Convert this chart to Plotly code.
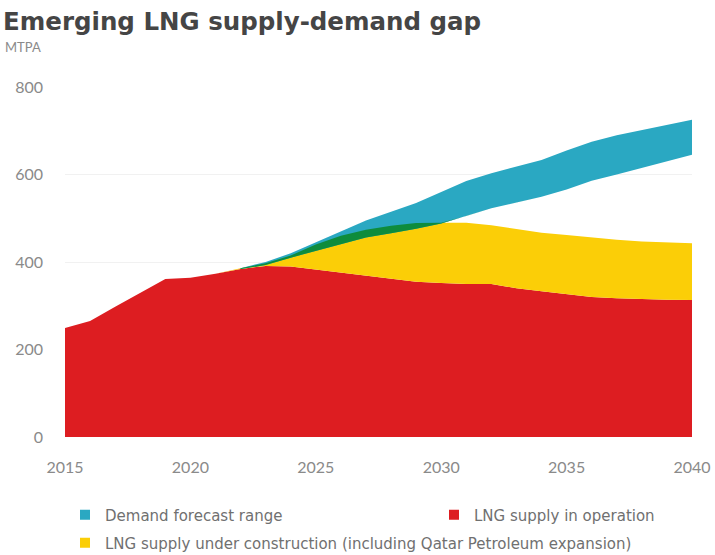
import numpy as np
import plotly.graph_objects as go

# ---- data (MTPA) ----
years = list(range(2015, 2041))
supply_in_operation = [249, 265, 298, 330, 361, 364, 373, 384, 391, 390,
                       383, 375, 369, 361, 355, 352, 350, 350, 340, 333,
                       326, 320, 317, 315, 314, 313]
supply_incl_construction = [249, 265, 298, 330, 361, 364, 373, 386, 397, 415,
                            440, 460, 474, 483, 489, 490, 490, 484, 476, 467,
                            462, 456, 451, 447, 445, 443]
demand_years = list(range(2022, 2041))
demand_low = [384, 393, 410, 425, 441, 456, 466, 476, 488, 505,
              523, 536, 549, 566, 586, 600, 615, 630, 645]
demand_high = [386, 400, 420, 445, 470, 495, 515, 535, 560, 585,
               603, 618, 633, 655, 675, 690, 702, 714, 725]

x_ticks = [2015, 2020, 2025, 2030, 2035, 2040]
y_ticks = [0, 200, 400, 600, 800]

RED = "#DD1D21"
YELLOW = "#FBCE07"
TEAL = "#2AA8C2"
GREEN = "#0E8C3C"
TEXT = "#8A8A8A"
FONT = "Lato"

# where demand range overlaps supply under construction
supply_on_demand_years = np.array(supply_incl_construction[years.index(2022):])
lo = np.array(demand_low)
hi = np.array(demand_high)
overlap_top = np.maximum(lo, np.minimum(supply_on_demand_years, hi))

fig = go.Figure()

fig.add_trace(go.Scatter(x=years, y=supply_in_operation, mode="lines",
                         line=dict(width=0, color=RED), fill="tozeroy",
                         fillcolor=RED, showlegend=False, hoverinfo="skip"))
fig.add_trace(go.Scatter(x=years, y=supply_incl_construction, mode="lines",
                         line=dict(width=0, color=YELLOW), fill="tonexty",
                         fillcolor=YELLOW, showlegend=False, hoverinfo="skip"))
fig.add_trace(go.Scatter(x=demand_years, y=demand_low, mode="lines",
                         line=dict(width=0, color=TEAL),
                         showlegend=False, hoverinfo="skip"))
fig.add_trace(go.Scatter(x=demand_years, y=demand_high, mode="lines",
                         line=dict(width=0, color=TEAL), fill="tonexty",
                         fillcolor=TEAL, showlegend=False, hoverinfo="skip"))
fig.add_trace(go.Scatter(x=demand_years, y=demand_low, mode="lines",
                         line=dict(width=0, color=GREEN),
                         showlegend=False, hoverinfo="skip"))
fig.add_trace(go.Scatter(x=demand_years, y=overlap_top, mode="lines",
                         line=dict(width=0, color=GREEN), fill="tonexty",
                         fillcolor=GREEN, showlegend=False, hoverinfo="skip"))

# legend entries (square swatches), one legend box per entry
legend_items = [
    ("Demand forecast range", TEAL, "legend"),
    ("LNG supply in operation", RED, "legend2"),
    ("LNG supply under construction (including Qatar Petroleum expansion)", YELLOW, "legend3"),
]
for name, color, lg in legend_items:
    fig.add_trace(go.Scatter(x=[None], y=[None], mode="markers", name=name,
                             marker=dict(symbol="square", size=10, color=color),
                             legend=lg))

W, H = 715, 555
ML, MR, MT, MB = 65, 23, 87, 118
pw, ph = W - ML - MR, H - MT - MB


def px(xp):
    return (xp - ML) / pw


def py(yp):
    return (H - MB - yp) / ph


legend_font = dict(family="DejaVu Sans", size=15, color="#707070")


def legend_box(xp, yp):
    return dict(x=px(xp), y=py(yp), xanchor="left", yanchor="middle",
                orientation="v", font=legend_font, bgcolor="rgba(0,0,0,0)",
                borderwidth=0)


fig.update_layout(
    width=W, height=H,
    margin=dict(l=ML, r=MR, t=MT, b=MB, autoexpand=False),
    paper_bgcolor="white", plot_bgcolor="white",
    font=dict(family=FONT, color=TEXT),
    title=dict(text="<b>Emerging LNG supply-demand gap</b>",
               font=dict(family="DejaVu Sans", size=24.5, color="#454545"),
               xref="container", yref="container",
               x=3 / W, xanchor="left", y=1 - 21 / H, yanchor="middle"),
    xaxis=dict(range=[2015, 2040], tickvals=x_ticks, showgrid=False,
               zeroline=False, showline=False, ticks="",
               tickfont=dict(family=FONT, size=16, color=TEXT),
               ticklabelstandoff=19),
    yaxis=dict(range=[0, 800], tickvals=y_ticks, showgrid=True,
               gridcolor="#F1F1F1", gridwidth=1, zeroline=False,
               showline=False, ticks="",
               tickfont=dict(family=FONT, size=16, color=TEXT),
               ticklabelstandoff=21),
    legend=legend_box(65, 515),
    legend2=legend_box(434, 515),
    legend3=legend_box(65, 543),
    annotations=[dict(text="MTPA", xref="paper", yref="paper",
                      x=px(3), y=py(47), xanchor="left", yanchor="middle",
                      showarrow=False,
                      font=dict(family=FONT, size=13, color=TEXT))],
)

fig.write_html("out.html")
